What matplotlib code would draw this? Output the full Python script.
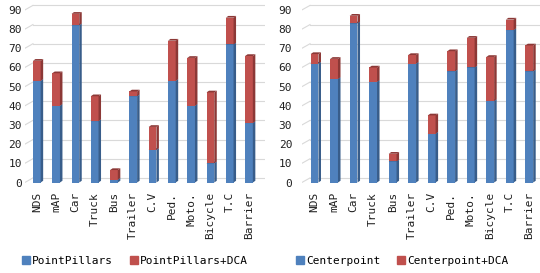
import matplotlib
matplotlib.use("Agg")
import matplotlib.pyplot as plt
from matplotlib.patches import Polygon, Patch
import numpy as np

categories = ["NDS", "mAP", "Car", "Truck", "Bus", "Trailer", "C.V", "Ped.",
              "Moto.", "Bicycle", "T.C", "Barrier"]

pp_base = [53, 40, 82, 32, 1.5, 45, 17, 53, 40, 10, 72, 31]
pp_dca = [63.5, 57, 88, 45, 6.5, 47.5, 29, 74, 65, 47, 86, 66]

cp_base = [62, 54, 83, 52.5, 11, 62, 25.5, 58, 60, 42.5, 79.5, 58]
cp_dca = [67, 64.5, 87, 60, 15, 66.5, 35, 68.5, 75.5, 65.5, 85, 71.5]

yticks = [0, 10, 20, 30, 40, 50, 60, 70, 80, 90]

BLUE, BLUE_DK = "#4F81BD", "#385D8A"
RED, RED_DK = "#C0504D", "#8C3836"
GRID = "#D9D9D9"

plt.rcParams["font.family"] = ["DejaVu Sans Mono"]
plt.rcParams["font.size"] = 8


def bar3d(ax, x, y0, y1, front, side, w=0.4, dx=0.13, dy=0.9):
    # front face, right side face and top face of one fake-3D segment
    ax.bar(x, y1 - y0, bottom=y0, width=w, color=front, zorder=3)
    r = x + w / 2
    ax.add_patch(Polygon([(r, y0), (r + dx, y0 + dy), (r + dx, y1 + dy), (r, y1)],
                         closed=True, color=side, lw=0, zorder=3))
    l = x - w / 2
    ax.add_patch(Polygon([(l, y1), (l + dx, y1 + dy), (r + dx, y1 + dy), (r, y1)],
                         closed=True, color=side, lw=0, zorder=3))


def panel(ax, base, total, xlim, ypad):
    x = np.arange(len(categories))
    for i in x:
        bar3d(ax, i, 0, base[i], BLUE, BLUE_DK)
        bar3d(ax, i, base[i], total[i], RED, RED_DK)
    ax.set_xlim(*xlim)
    ax.set_ylim(0, 93)
    ax.set_yticks(yticks)
    ax.set_xticks(x)
    ax.set_xticklabels(categories, rotation=90)
    # gridlines sit on the back wall, with a slanted floor edge at the left
    x0 = xlim[0] + 0.42
    for v in yticks:
        ax.plot([xlim[0], x0], [v, v + 2.4], color=GRID, lw=0.8, zorder=1)
        ax.plot([x0, xlim[1]], [v + 2.4, v + 2.4], color=GRID, lw=0.8, zorder=1)
    for s in ax.spines.values():
        s.set_visible(False)
    ax.tick_params(axis="y", length=0, pad=ypad, colors="#202020")
    ax.tick_params(axis="x", length=0, pad=7, colors="#202020")


fig = plt.figure(figsize=(5.4, 2.73), dpi=100)
ax1 = fig.add_axes([0.046, 0.3315, 0.444, 0.653])
ax2 = fig.add_axes([0.559, 0.3315, 0.441, 0.653])
panel(ax1, pp_base, pp_dca, (-0.62, 11.81), 2)
panel(ax2, cp_base, cp_dca, (-0.65, 11.55), 7)

fig.legend(handles=[Patch(color=BLUE, label="PointPillars"),
                    Patch(color=RED, label="PointPillars+DCA")],
           loc="center", bbox_to_anchor=(0.25, 0.045), ncol=2, frameon=False,
           handlelength=0.7, handleheight=0.7, handletextpad=0.2, columnspacing=1.5)
fig.legend(handles=[Patch(color=BLUE, label="Centerpoint"),
                    Patch(color=RED, label="Centerpoint+DCA")],
           loc="center", bbox_to_anchor=(0.745, 0.045), ncol=2, frameon=False,
           handlelength=0.7, handleheight=0.7, handletextpad=0.2, columnspacing=1.5)

fig.savefig("out.png", dpi=100)
